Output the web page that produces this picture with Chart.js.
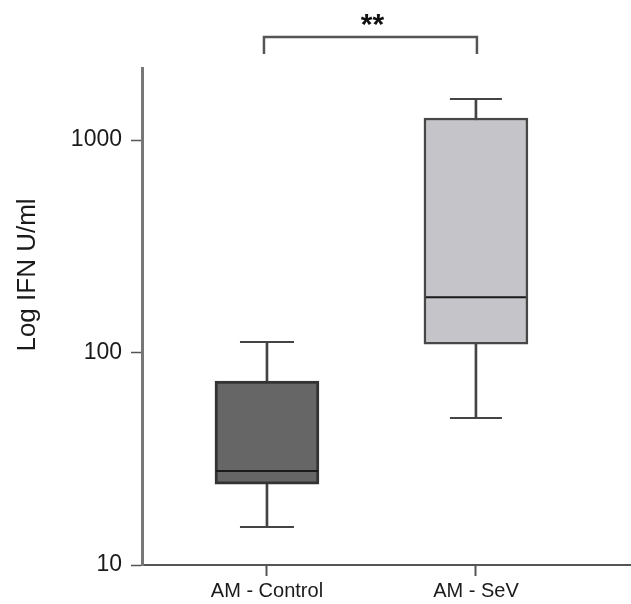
<!DOCTYPE html>
<html>
<head>
<meta charset="utf-8">
<script src="https://cdn.jsdelivr.net/npm/chart.js@4/dist/chart.umd.min.js"></script>
<style>
  html, body { margin: 0; padding: 0; background: #fff; }
  #wrap { width: 631px; height: 604px; }
</style>
</head>
<body>
<div id="wrap"><canvas id="chart" width="631" height="604"></canvas></div>
<script>
// box plot values (log scale)
const categories = ['AM - Control', 'AM - SeV']
const mins = [15.1, 49.2]
const q1s = [24.0, 109.6]
const medians = [27.7, 182]
const q3s = [73.4, 1270]
const maxs = [112, 1560]
const yTicks = [10, 100, 1000]
const boxFills = ['#666666', '#c4c4c9']
const boxEdges = ['#333333', '#474747']

const pos = categories.map((c, i) => i + 1)
const pts = vals => vals.map((v, i) => ({ x: pos[i], y: v }))
const ranges = (a, b) => a.map((v, i) => ({ x: pos[i], y: [v, b[i]] }))

const FONT = "'Liberation Sans', Arial, sans-serif"

// keep the plot area fixed, labels may hang over the edges
const noPad = s => { s.paddingLeft = 0; s.paddingRight = 0; s.paddingTop = 0; s.paddingBottom = 0 }

const extras = {
  id: 'extras',
  afterDraw(chart) {
    const ctx = chart.ctx
    const xs = chart.scales.x
    const area = chart.chartArea
    ctx.save()
    // y axis title
    ctx.translate(28, 275)
    ctx.rotate(-Math.PI / 2)
    ctx.font = '26px ' + FONT
    ctx.fillStyle = '#1a1a1a'
    ctx.textAlign = 'center'
    ctx.textBaseline = 'middle'
    ctx.fillText('Log IFN U/ml', 0, 0)
    ctx.restore()

    // significance bracket
    const x1 = xs.getPixelForValue(pos[0]) - 3
    const x2 = xs.getPixelForValue(pos[1]) + 1
    const yTop = area.top - 31
    ctx.save()
    ctx.strokeStyle = '#555'
    ctx.lineWidth = 2.5
    ctx.beginPath()
    ctx.moveTo(x1, area.top - 14)
    ctx.lineTo(x1, yTop)
    ctx.lineTo(x2, yTop)
    ctx.lineTo(x2, area.top - 14)
    ctx.stroke()
    ctx.fillStyle = '#111'
    ctx.font = 'bold 30px ' + FONT
    ctx.textAlign = 'center'
    ctx.textBaseline = 'middle'
    ctx.fillText('**', (x1 + x2) / 2 + 2, yTop - 11)
    ctx.restore()
  }
}

new Chart(document.getElementById('chart'), {
  type: 'bar',
  data: {
    datasets: [
      { type: 'line', data: pts(medians), showLine: false, pointStyle: 'line', pointRadius: [51, 50], pointBorderWidth: 2, pointBorderColor: '#1a1a1a', order: 0 },
      { type: 'line', data: pts(maxs), showLine: false, pointStyle: 'line', pointRadius: [27, 26], pointBorderWidth: 2, pointBorderColor: '#444', order: 1 },
      { type: 'line', data: pts(mins), showLine: false, pointStyle: 'line', pointRadius: [27, 26], pointBorderWidth: 2, pointBorderColor: '#444', order: 1 },
      { data: ranges(q1s, q3s), backgroundColor: boxFills, borderColor: boxEdges, borderWidth: [3, 2.5], borderSkipped: false, barThickness: 104, grouped: false, order: 2 },
      { data: ranges(mins, maxs), backgroundColor: '#444', borderWidth: 0, barThickness: 2, grouped: false, order: 3 }
    ]
  },
  options: {
    responsive: false,
    animation: false,
    layout: { autoPadding: false, padding: { top: 68, left: 0, right: 0, bottom: 0 } },
    plugins: { legend: { display: false }, tooltip: { enabled: false } },
    scales: {
      x: {
        type: 'linear',
        min: 0.402,
        max: 2.742,
        offset: false,
        afterFit: s => { s.height = 39; noPad(s) },
        afterBuildTicks: s => { s.ticks = pos.map(v => ({ value: v })) },
        ticks: { callback: v => categories[pos.indexOf(v)] || '', color: '#1a1a1a', font: { family: FONT, size: 20 }, padding: 3, maxRotation: 0, autoSkip: false },
        grid: { offset: false, drawOnChartArea: false, tickLength: 11, tickColor: '#555', tickWidth: 2 },
        border: { color: '#555', width: 2 }
      },
      y: {
        type: 'logarithmic',
        min: 10,
        max: 2183,
        afterFit: s => { s.width = 142; noPad(s) },
        afterBuildTicks: s => { s.ticks = yTicks.map(v => ({ value: v })) },
        ticks: { callback: v => String(v), color: '#1a1a1a', font: { family: FONT, size: 23 }, padding: 9 },
        grid: { drawOnChartArea: false, tickLength: 11, tickColor: '#555', tickWidth: 1.5 },
        border: { color: '#777', width: 3 }
      }
    }
  },
  plugins: [extras]
})
</script>
</body>
</html>
